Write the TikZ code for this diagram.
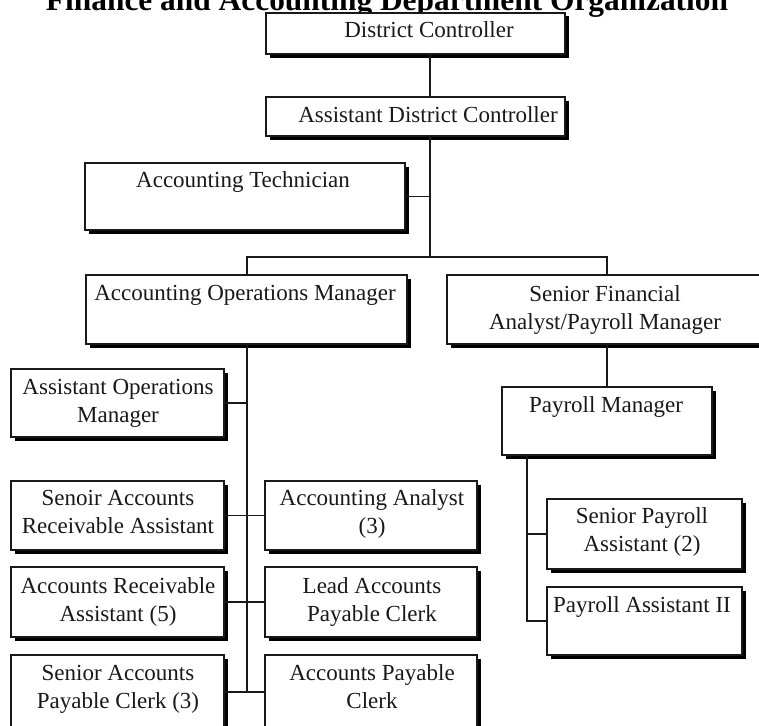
\documentclass[tikz,border=0pt]{standalone}
\usepackage{fontspec}
\setmainfont{Liberation Serif}
\usetikzlibrary{shadows}

\newcommand{\bodyfont}{\fontsize{23}{28}\selectfont}
\newcommand{\titlefont}{\fontsize{31.4}{36}\selectfont\bfseries}

\tikzset{
  orgbox/.style={draw=black!90, line width=1.2pt, fill=white, inner sep=0pt,
    drop shadow={shadow xshift=3.5pt, shadow yshift=-3.5pt, fill=black, opacity=1}},
  boxtext/.style={font=\bodyfont, align=center, inner sep=0pt, text=black!90},
  link/.style={draw=black!90, line width=1.2pt},
}

% \orgrect{name}{left}{top}{right}{bottom}: a framed box with a drop shadow
\newcommand{\orgrect}[5]{%
  \node[orgbox, minimum width={(#4-#2)*1pt}, minimum height={(#5-#3)*1pt}]
    (#1) at ({(#2+#4)/2},{(#3+#5)/2}) {};}

\begin{document}
\begin{tikzpicture}[x=1pt, y=-1pt]
  \useasboundingbox (0,0) rectangle (759,725);
  \clip (0,0) rectangle (759,725);
  \fill[white] (0,0) rectangle (759,725);

  % title
  \node[font=\titlefont, anchor=base, inner sep=0pt] (title) at (387,11)
    {Finance and Accounting Department Organization};

  % boxes
  \orgrect{dc}{266}{13}{565}{54}
  \orgrect{adc}{266}{97}{565}{136}
  \orgrect{tech}{85}{163}{405}{230}
  \orgrect{aom}{86}{275}{407}{344}
  \orgrect{sfa}{447}{275}{765}{344}
  \orgrect{pm}{502}{387}{712}{455}
  \orgrect{spa}{547}{499}{742}{569}
  \orgrect{pa2}{547}{587}{742}{655}
  \orgrect{aopm}{11}{369}{224}{437}
  \orgrect{sara}{11}{481}{224}{550}
  \orgrect{ara}{11}{567}{224}{637}
  \orgrect{sapc}{11}{655}{224}{729}
  \orgrect{aa}{265}{481}{477}{550}
  \orgrect{lapc}{265}{567}{477}{637}
  \orgrect{apc}{265}{655}{477}{729}

  % box texts
  \node[boxtext] (dc-t)   at (429,32)  {\strut District Controller};
  \node[boxtext] (adc-t)  at (428,117) {\strut Assistant District Controller};
  \node[boxtext] (tech-t) at (243,182) {\strut Accounting Technician};
  \node[boxtext] (aom-t)  at (245,295) {\strut Accounting Operations Manager};
  \node[boxtext] (sfa-t)  at (605,310) {\strut Senior Financial\\\strut Analyst/Payroll Manager};
  \node[boxtext] (pm-t)   at (606,407) {\strut Payroll Manager};
  \node[boxtext] (spa-t)  at (642,532) {\strut Senior Payroll\\\strut Assistant (2)};
  \node[boxtext] (pa2-t)  at (642,607) {\strut Payroll Assistant II};
  \node[boxtext] (aopm-t) at (118,403) {\strut Assistant Operations\\\strut Manager};
  \node[boxtext] (sara-t) at (118,514) {\strut Senoir Accounts\\\strut Receivable Assistant};
  \node[boxtext] (ara-t)  at (118,602) {\strut Accounts Receivable\\\strut Assistant (5)};
  \node[boxtext] (sapc-t) at (118,689) {\strut Senior Accounts\\\strut Payable Clerk (3)};
  \node[boxtext] (aa-t)   at (372,514) {\strut Accounting Analyst\\\strut (3)};
  \node[boxtext] (lapc-t) at (372,602) {\strut Lead Accounts\\\strut Payable Clerk};
  \node[boxtext] (apc-t)  at (372,689) {\strut Accounts Payable\\\strut Clerk};

  % connector guide lines
  \coordinate (trunk) at (430,0);
  \coordinate (opsx)  at (247,0);
  \coordinate (payx)  at (607,0);
  \coordinate (pmx)   at (527,0);
  \coordinate (split) at (430,257);

  % connectors
  \draw[link] (dc.south -| trunk) -- (adc.north -| trunk);
  \draw[link] (adc.south -| trunk) -- (split);
  \draw[link] (tech.east) -- (tech.east -| trunk);
  \draw[link] (aom.north -| opsx) -- (opsx |- split) -- (payx |- split) -- (sfa.north -| payx);
  \draw[link] (sfa.south -| payx) -- (pm.north -| payx);
  \draw[link] (pm.south -| pmx) |- (pa2.west);
  \draw[link] (pmx |- spa.west) -- (spa.west);
  \draw[link] (aom.south -| opsx) |- (sapc.east);
  \draw[link] (aopm.east) -- (aopm.east -| opsx);
  \draw[link] (sara.east) -- (aa.west);
  \draw[link] (ara.east) -- (lapc.west);
  \draw[link] (sapc.east) -- (apc.west);
\end{tikzpicture}
\end{document}
